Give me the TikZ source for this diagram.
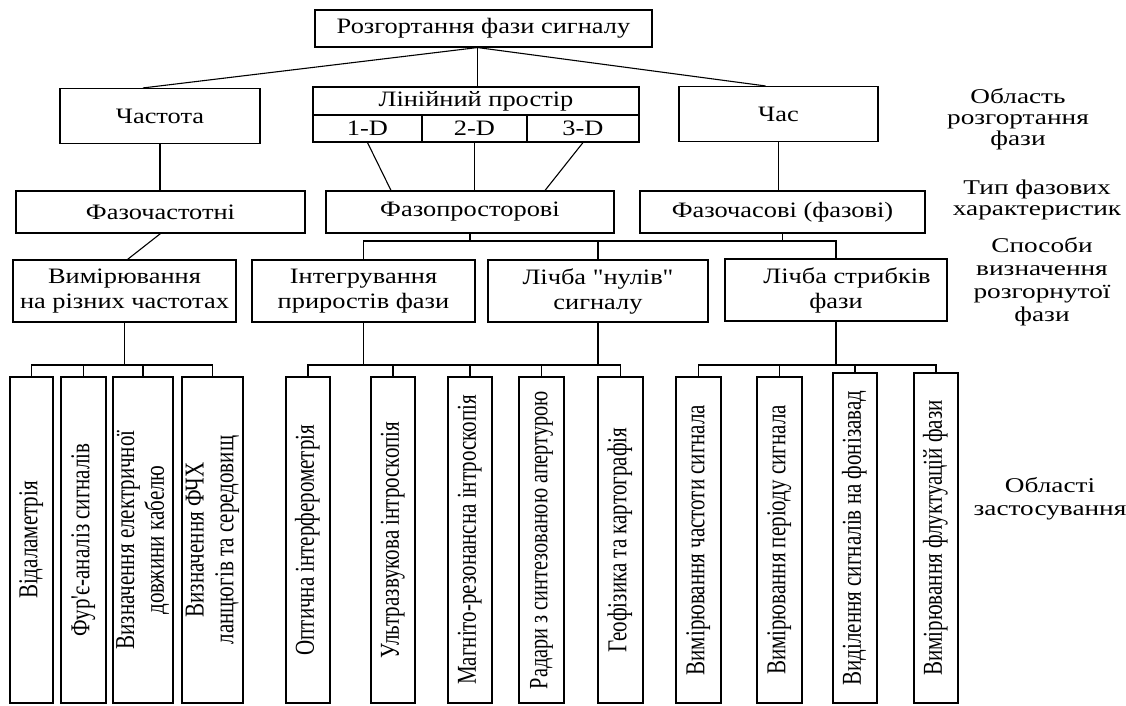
\documentclass[tikz,border=0pt]{standalone}
\usepackage{fontspec}
\setmainfont[FakeStretch=1.2,Ligatures=TeXOff]{Liberation Serif}
\newfontfamily\vfont{Liberation Serif}
\newfontfamily\sidefont[FakeStretch=1.3,Ligatures=TeXOff]{Liberation Serif}
\usepackage{graphicx}
\newcommand{\vtext}[1]{\rotatebox{90}{\scalebox{1}[1.3]{\vfont\begin{tabular}{@{}c@{}}#1\end{tabular}}}}
\begin{document}
\begin{tikzpicture}[x=1pt,y=-1pt,line width=1.1pt,
  blk/.style={draw,inner sep=0pt,align=center,font=\fontsize{22}{25}\selectfont},
  vblk/.style={draw,inner sep=0pt,minimum height=326pt,font=\fontsize{21}{23}\selectfont},
  side/.style={align=center,font=\sidefont\fontsize{21}{#1}\selectfont}]
\useasboundingbox (0,0) rectangle (1126,706);

% область розгортання
\node[blk,minimum width=337pt,minimum height=37pt] (top) at (483.5,28.5) {Розгортання фази сигналу};
\node[blk,minimum width=200pt,minimum height=55pt] (chast) at (160,116) {Частота};
\node[blk,minimum width=326pt,minimum height=28pt] (hdr) at (476,101) {Лінійний простір};
\node[blk,minimum width=109pt,minimum height=27pt] (d1) at (367.5,128.5) {1-D};
\node[blk,minimum width=105pt,minimum height=27pt] (d2) at (474.5,128.5) {2-D};
\node[blk,minimum width=112pt,minimum height=27pt] (d3) at (583,128.5) {3-D};
\node[blk,minimum width=199pt,minimum height=55pt] (chas) at (778.5,114) {Час};

% тип характеристик
\node[blk,minimum width=289pt,minimum height=42pt] (fch) at (160.5,212) {Фазочастотні};
\node[blk,minimum width=288pt,minimum height=42pt] (fpr) at (470,212) {Фазопросторові};
\node[blk,minimum width=285pt,minimum height=42pt] (fchs) at (782.5,212) {Фазочасові (фазові)};

% способи
\node[blk,minimum width=223pt,minimum height=62pt] (vym) at (124.5,291) {Вимірювання\\на різних частотах};
\node[blk,minimum width=223pt,minimum height=62pt] (integ) at (363.5,291) {Інтегрування\\приростів фази};
\node[blk,minimum width=220pt,minimum height=62pt] (nul) at (598,291) {Лічба "нулів"\\сигналу};
\node[blk,minimum width=222pt,minimum height=62pt] (strib) at (836,290) {\hspace*{22pt}Лічба стрибків\\фази};

% області застосування
\node[vblk,minimum width=43pt] (a1) at (31.5,540) {\vtext{Відаламетрія}};
\node[vblk,minimum width=45pt] (a2) at (83.5,540) {\vtext{Фур'є-аналіз сигналів}};
\node[vblk,minimum width=60pt] (a3) at (143,540) {\vtext{Визначення електричної\\довжини кабелю}};
\node[vblk,minimum width=61pt] (a4) at (212.5,540) {\vtext{Визначення ФЧХ\\ланцюгів та середовищ}};
\node[vblk,minimum width=44pt] (b1) at (308,540) {\vtext{Оптична інтерферометрія}};
\node[vblk,minimum width=44pt] (b2) at (393,540) {\vtext{Ультразвукова інтроскопія}};
\node[vblk,minimum width=44pt] (b3) at (470,540) {\vtext{Магніто-резонансна інтроскопія}};
\node[vblk,minimum width=45pt,font=\fontsize{20.3}{23}\selectfont] (b4) at (541.5,540) {\vtext{Радари з синтезованою апертурою}};
\node[vblk,minimum width=45pt] (b5) at (620.5,540) {\vtext{Геофізика та картографія}};
\node[vblk,minimum width=45pt] (c1) at (698.5,540) {\vtext{Вимірювання частоти сигнала}};
\node[vblk,minimum width=45pt] (c2) at (779.5,540) {\vtext{Вимірювання періоду сигнала}};
\node[vblk,minimum width=44pt,minimum height=330pt] (c3) at (855,538) {\vtext{Виділення сигналів на фонізавад}};
\node[vblk,minimum width=44pt,minimum height=330pt] (c4) at (936,538) {\vtext{Вимірювання флуктуацій фази}};

% підписи рівнів
\node[side=21] (l1) at (1018,119) {Область\\розгортання\\фази};
\node[side=21] (l2) at (1037,200) {Тип фазових\\характеристик};
\node[side=23] (l3) at (1042,282) {Способи\\визначення\\розгорнутої\\фази};
\node[side=23] (l4) at (1050,499) {Області\\застосування};

% з'єднання
\draw ([xshift=-6pt]top.south) -- ([xshift=-17pt]chast.north);
\draw ([xshift=-6pt]top.south) -- ([xshift=-6pt]top.south |- hdr.north);
\draw ([xshift=-6pt]top.south) -- ([xshift=-13pt]chas.north);
\draw (chast.south) -- (chast.south |- fch.north);
\draw (d1.south) -- ([xshift=-79pt]fpr.north);
\draw (d2.south) -- (d2.south |- fpr.north);
\draw (d3.south) -- ([xshift=75pt]fpr.north);
\draw (chas.south) -- (chas.south |- fchs.north);
\draw (fch.south) -- ([xshift=3pt]vym.north);

\coordinate (bus1) at (0,241);
\draw (fpr.south) -- (fpr.south |- bus1);
\draw (fchs.south) -- (fchs.south |- bus1);
\draw (integ.north) -- (integ.north |- bus1) -- (strib.north |- bus1) -- (strib.north);
\draw (nul.north) -- (nul.north |- bus1);

\coordinate (bus2) at (0,365);
\draw (vym.south) -- (vym.south |- bus2);
\draw (a1.north) -- (a1.north |- bus2) -- (a4.north |- bus2) -- (a4.north);
\foreach \n in {a2,a3} \draw (\n.north) -- (\n.north |- bus2);
\draw (integ.south) -- (integ.south |- bus2);
\draw (nul.south) -- (nul.south |- bus2);
\draw (b1.north) -- (b1.north |- bus2) -- (b5.north |- bus2) -- (b5.north);
\foreach \n in {b2,b3,b4} \draw (\n.north) -- (\n.north |- bus2);
\draw (strib.south) -- (strib.south |- bus2);
\draw (c1.north) -- (c1.north |- bus2) -- (c4.north |- bus2) -- (c4.north);
\foreach \n in {c2,c3} \draw (\n.north) -- (\n.north |- bus2);
\end{tikzpicture}
\end{document}
